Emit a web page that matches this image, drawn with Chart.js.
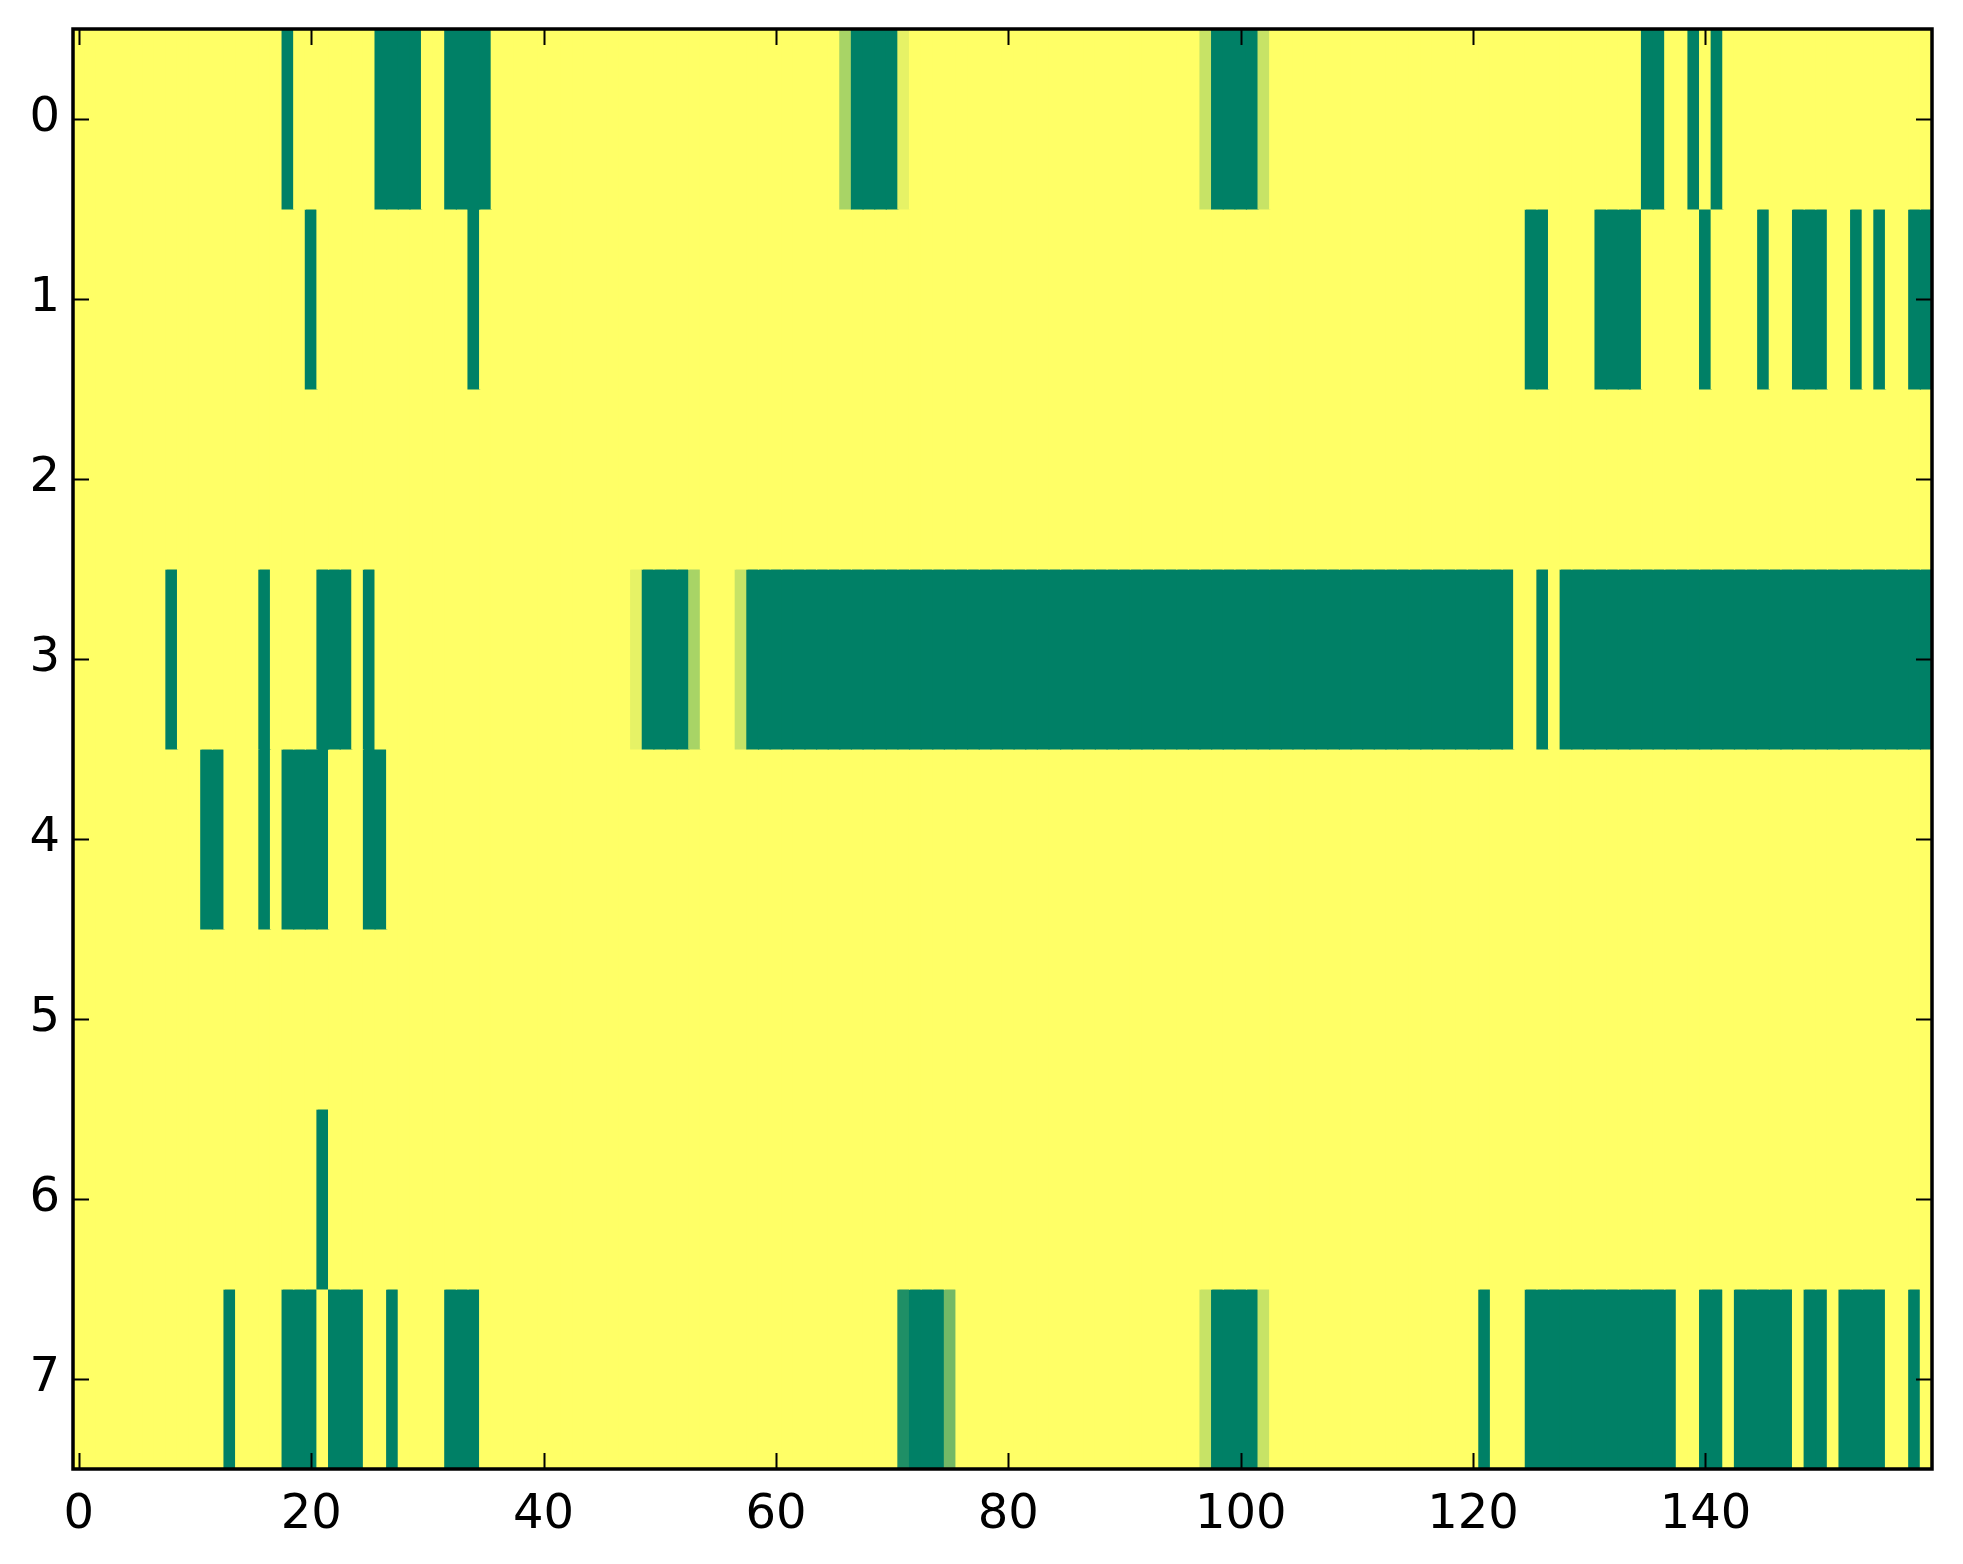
<!DOCTYPE html>
<html>
<head>
<meta charset="utf-8">
<script src="https://cdn.jsdelivr.net/npm/chart.js@4/dist/chart.umd.min.js"></script>
<style>
  html, body { margin: 0; padding: 0; background: #fff; }
  canvas { display: block; }
</style>
</head>
<body>
<canvas id="heat" width="1963" height="1564"></canvas>
<script>
// cell values, 1 = yellow, 0 = green (summer colormap), 160 columns per row
const row0 = [
  1,1,1,1,1,1,1,1,1,1, 1,1,1,1,1,1,1,1,0,1,
  1,1,1,1,1,1,0,0,0,0, 1,1,0,0,0,0,1,1,1,1,
  1,1,1,1,1,1,1,1,1,1, 1,1,1,1,1,1,1,1,1,1,
  1,1,1,1,1,1,0.66,0,0,0, 0,0.9,1,1,1,1,1,1,1,1,
  1,1,1,1,1,1,1,1,1,1, 1,1,1,1,1,1,1,0.78,0,0,
  0,0,0.78,1,1,1,1,1,1,1, 1,1,1,1,1,1,1,1,1,1,
  1,1,1,1,1,1,1,1,1,1, 1,1,1,1,1,0,0,1,1,0,
  1,0,1,1,1,1,1,1,1,1, 1,1,1,1,1,1,1,1,1,1
];
const row1 = [
  1,1,1,1,1,1,1,1,1,1, 1,1,1,1,1,1,1,1,1,1,
  0,1,1,1,1,1,1,1,1,1, 1,1,1,1,0,1,1,1,1,1,
  1,1,1,1,1,1,1,1,1,1, 1,1,1,1,1,1,1,1,1,1,
  1,1,1,1,1,1,1,1,1,1, 1,1,1,1,1,1,1,1,1,1,
  1,1,1,1,1,1,1,1,1,1, 1,1,1,1,1,1,1,1,1,1,
  1,1,1,1,1,1,1,1,1,1, 1,1,1,1,1,1,1,1,1,1,
  1,1,1,1,1,0,0,1,1,1, 1,0,0,0,0,1,1,1,1,1,
  0,1,1,1,1,0,1,1,0,0, 0,1,1,0,1,0,1,1,0,0
];
const row2 = [
  1,1,1,1,1,1,1,1,1,1, 1,1,1,1,1,1,1,1,1,1,
  1,1,1,1,1,1,1,1,1,1, 1,1,1,1,1,1,1,1,1,1,
  1,1,1,1,1,1,1,1,1,1, 1,1,1,1,1,1,1,1,1,1,
  1,1,1,1,1,1,1,1,1,1, 1,1,1,1,1,1,1,1,1,1,
  1,1,1,1,1,1,1,1,1,1, 1,1,1,1,1,1,1,1,1,1,
  1,1,1,1,1,1,1,1,1,1, 1,1,1,1,1,1,1,1,1,1,
  1,1,1,1,1,1,1,1,1,1, 1,1,1,1,1,1,1,1,1,1,
  1,1,1,1,1,1,1,1,1,1, 1,1,1,1,1,1,1,1,1,1
];
const row3 = [
  1,1,1,1,1,1,1,1,0,1, 1,1,1,1,1,1,0,1,1,1,
  1,0,0,0,1,0,1,1,1,1, 1,1,1,1,1,1,1,1,1,1,
  1,1,1,1,1,1,1,1,0.9,0, 0,0,0,0.66,1,1,1,0.78,0,0,
  0,0,0,0,0,0,0,0,0,0, 0,0,0,0,0,0,0,0,0,0,
  0,0,0,0,0,0,0,0,0,0, 0,0,0,0,0,0,0,0,0,0,
  0,0,0,0,0,0,0,0,0,0, 0,0,0,0,0,0,0,0,0,0,
  0,0,0,0,1,1,0,1,0,0, 0,0,0,0,0,0,0,0,0,0,
  0,0,0,0,0,0,0,0,0,0, 0,0,0,0,0,0,0,0,0,0
];
const row4 = [
  1,1,1,1,1,1,1,1,1,1, 1,0,0,1,1,1,0,1,0,0,
  0,0,1,1,1,0,0,1,1,1, 1,1,1,1,1,1,1,1,1,1,
  1,1,1,1,1,1,1,1,1,1, 1,1,1,1,1,1,1,1,1,1,
  1,1,1,1,1,1,1,1,1,1, 1,1,1,1,1,1,1,1,1,1,
  1,1,1,1,1,1,1,1,1,1, 1,1,1,1,1,1,1,1,1,1,
  1,1,1,1,1,1,1,1,1,1, 1,1,1,1,1,1,1,1,1,1,
  1,1,1,1,1,1,1,1,1,1, 1,1,1,1,1,1,1,1,1,1,
  1,1,1,1,1,1,1,1,1,1, 1,1,1,1,1,1,1,1,1,1
];
const row5 = [
  1,1,1,1,1,1,1,1,1,1, 1,1,1,1,1,1,1,1,1,1,
  1,1,1,1,1,1,1,1,1,1, 1,1,1,1,1,1,1,1,1,1,
  1,1,1,1,1,1,1,1,1,1, 1,1,1,1,1,1,1,1,1,1,
  1,1,1,1,1,1,1,1,1,1, 1,1,1,1,1,1,1,1,1,1,
  1,1,1,1,1,1,1,1,1,1, 1,1,1,1,1,1,1,1,1,1,
  1,1,1,1,1,1,1,1,1,1, 1,1,1,1,1,1,1,1,1,1,
  1,1,1,1,1,1,1,1,1,1, 1,1,1,1,1,1,1,1,1,1,
  1,1,1,1,1,1,1,1,1,1, 1,1,1,1,1,1,1,1,1,1
];
const row6 = [
  1,1,1,1,1,1,1,1,1,1, 1,1,1,1,1,1,1,1,1,1,
  1,0,1,1,1,1,1,1,1,1, 1,1,1,1,1,1,1,1,1,1,
  1,1,1,1,1,1,1,1,1,1, 1,1,1,1,1,1,1,1,1,1,
  1,1,1,1,1,1,1,1,1,1, 1,1,1,1,1,1,1,1,1,1,
  1,1,1,1,1,1,1,1,1,1, 1,1,1,1,1,1,1,1,1,1,
  1,1,1,1,1,1,1,1,1,1, 1,1,1,1,1,1,1,1,1,1,
  1,1,1,1,1,1,1,1,1,1, 1,1,1,1,1,1,1,1,1,1,
  1,1,1,1,1,1,1,1,1,1, 1,1,1,1,1,1,1,1,1,1
];
const row7 = [
  1,1,1,1,1,1,1,1,1,1, 1,1,1,0,1,1,1,1,0,0,
  0,1,0,0,0,1,1,0,1,1, 1,1,0,0,0,1,1,1,1,1,
  1,1,1,1,1,1,1,1,1,1, 1,1,1,1,1,1,1,1,1,1,
  1,1,1,1,1,1,1,1,1,1, 1,0.12,0,0,0,0.45,1,1,1,1,
  1,1,1,1,1,1,1,1,1,1, 1,1,1,1,1,1,1,0.78,0,0,
  0,0,0.78,1,1,1,1,1,1,1, 1,1,1,1,1,1,1,1,1,1,
  1,0,1,1,1,0,0,0,0,0, 0,0,0,0,0,0,0,0,1,1,
  0,0,1,0,0,0,0,0,1,0, 0,1,0,0,0,0,1,1,0,1
];
const rows = [row0, row1, row2, row3, row4, row5, row6, row7];

const xTicks = [0, 20, 40, 60, 80, 100, 120, 140];
const yTicks = [0, 1, 2, 3, 4, 5, 6, 7];

// matplotlib "summer": 0 -> #008066, 1 -> #ffff66
function summer(v) {
    const r = Math.round(255 * v);
    const g = Math.round(255 * (0.5 + 0.5 * v));
    return `rgb(${r},${g},102)`;
}

const datasets = rows.map((vals, r) => ({
    label: 'row ' + r,
    data: vals.map((v, c) => ({ x: c, y: [r - 0.5, r + 0.5] })),
    backgroundColor: vals.map(summer),
    borderWidth: 0,
    inflateAmount: 0.6,
    barPercentage: 1,
    categoryPercentage: 1,
    grouped: false,
}));

// ticks pointing inward on all four sides + closed frame, like matplotlib classic
const frameTicks = {
    id: 'frameTicks',
    afterDraw(chart) {
        const { ctx, chartArea: a, scales } = chart;
        const len = 16;
        ctx.save();
        ctx.strokeStyle = '#000';
        ctx.lineWidth = 2;
        ctx.beginPath();
        xTicks.forEach(v => {
            const px = Math.round(scales.x.getPixelForValue(v)) + 0.5;
            ctx.moveTo(px, a.bottom); ctx.lineTo(px, a.bottom - len);
            ctx.moveTo(px, a.top);    ctx.lineTo(px, a.top + len);
        });
        yTicks.forEach(v => {
            const py = Math.round(scales.y.getPixelForValue(v)) + 0.5;
            ctx.moveTo(a.left, py);  ctx.lineTo(a.left + len, py);
            ctx.moveTo(a.right, py); ctx.lineTo(a.right - len, py);
        });
        ctx.stroke();
        ctx.lineWidth = 3.5;
        ctx.strokeRect(a.left, a.top, a.right - a.left, a.bottom - a.top);
        ctx.restore();
    }
};

const FONT = { family: 'DejaVu Sans', size: 48 };

new Chart(document.getElementById('heat'), {
    type: 'bar',
    data: { datasets },
    options: {
        responsive: false,
        devicePixelRatio: 1,
        animation: false,
        layout: { padding: { top: 29, right: 31, left: 0, bottom: 0 } },
        plugins: { legend: { display: false }, tooltip: { enabled: false } },
        scales: {
            x: {
                type: 'linear',
                offset: false,
                min: -0.5,
                max: 159.5,
                grid: { display: false, drawTicks: false, offset: false },
                border: { display: false },
                afterBuildTicks: s => { s.ticks = xTicks.map(v => ({ value: v })); },
                afterFit: s => { s.height = 95; s.paddingLeft = 0; s.paddingRight = 0; },
                ticks: { font: FONT, color: '#000', padding: 18, maxRotation: 0, autoSkip: false },
            },
            y: {
                type: 'linear',
                reverse: true,
                min: -0.5,
                max: 7.5,
                grid: { display: false, drawTicks: false },
                border: { display: false },
                afterBuildTicks: s => { s.ticks = yTicks.map(v => ({ value: v })); },
                afterFit: s => { s.width = 73; s.paddingTop = 0; s.paddingBottom = 0; },
                ticks: { font: FONT, color: '#000', padding: 13, autoSkip: false },
            }
        }
    },
    plugins: [frameTicks]
});
</script>
</body>
</html>
